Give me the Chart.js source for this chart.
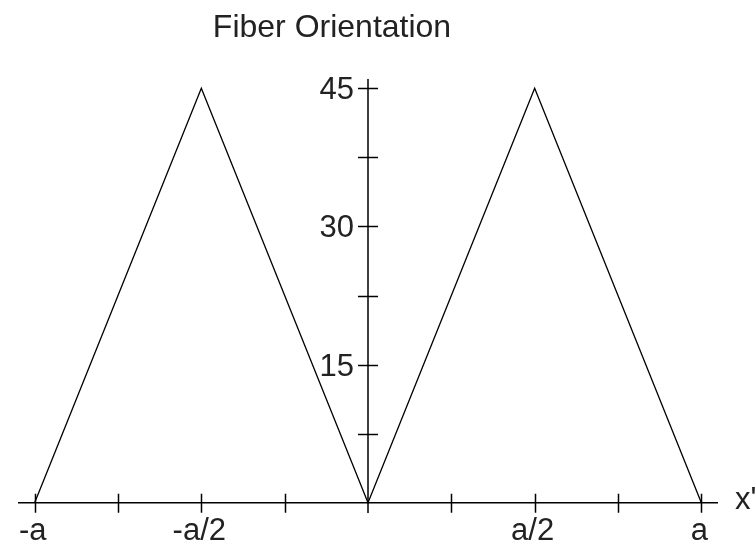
<!DOCTYPE html>
<html>
<head>
<meta charset="utf-8">
<script src="https://cdn.jsdelivr.net/npm/chart.js@4/dist/chart.umd.min.js"></script>
<style>
  html, body { margin: 0; padding: 0; background: #fff; }
  #wrap { width: 756px; height: 544px; }
</style>
</head>
<body>
<div id="wrap"><canvas id="fiberChart" width="756" height="544"></canvas></div>
<script>
// fiber angle across the laminate, x' in units of a
const xs = [-1, -0.5, 0, 0.5, 1];
const angles = [0, 45, 0, 45, 0];

const xTicks = [-1, -0.75, -0.5, -0.25, 0.25, 0.5, 0.75, 1];
const xTickLabels = { '-1': '-a', '-0.5': '-a/2', '0.5': 'a/2', '1': 'a' };
const yTicks = [7.5, 15, 22.5, 30, 37.5, 45];
const yTickLabels = { '15': '15', '30': '30', '45': '45' };

const FONT = '"Liberation Sans", Arial, Helvetica, sans-serif';

// axes cross at the origin, ticks straddle the line -> draw them by hand from the scales
const crossAxes = {
  id: 'crossAxes',
  afterDatasetsDraw(chart) {
    const { ctx, scales: { x, y } } = chart;
    const x0 = x.getPixelForValue(0), y0 = y.getPixelForValue(0);
    ctx.save();
    ctx.strokeStyle = '#000';
    ctx.fillStyle = '#222';
    ctx.lineWidth = 1.5;

    // x axis
    ctx.beginPath();
    ctx.moveTo(x.left, y0);
    ctx.lineTo(x.right, y0);
    // y axis
    ctx.moveTo(x0, y.bottom);
    ctx.lineTo(x0, y.top);
    xTicks.forEach(v => {
      const px = Math.round(x.getPixelForValue(v)) + 0.5;
      ctx.moveTo(px, y0 - 9);
      ctx.lineTo(px, y0 + 10);
    });
    yTicks.forEach(v => {
      const py = Math.round(y.getPixelForValue(v)) + 0.5;
      ctx.moveTo(x0 - 10, py);
      ctx.lineTo(x0 + 10, py);
    });
    ctx.stroke();

    ctx.font = '31px ' + FONT;
    ctx.textAlign = 'center';
    ctx.textBaseline = 'alphabetic';
    Object.keys(xTickLabels).forEach(k => {
      ctx.fillText(xTickLabels[k], x.getPixelForValue(+k) - 2, y0 + 37);
    });
    ctx.textAlign = 'right';
    Object.keys(yTickLabels).forEach(k => {
      ctx.fillText(yTickLabels[k], x0 - 14, y.getPixelForValue(+k) + 11);
    });

    // axis name
    ctx.textAlign = 'left';
    ctx.fillText("x'", x.right + 17, y0 + 6);

    // title
    ctx.textAlign = 'center';
    ctx.font = '32px ' + FONT;
    ctx.fillText('Fiber Orientation', 332, 37);
    ctx.restore();
  }
};

new Chart(document.getElementById('fiberChart').getContext('2d'), {
  type: 'line',
  data: {
    datasets: [{
      data: xs.map((v, i) => ({ x: v, y: angles[i] })),
      borderColor: '#000',
      borderWidth: 1.3,
      pointRadius: 0,
      tension: 0,
      fill: false
    }]
  },
  options: {
    responsive: false,
    animation: false,
    layout: { padding: { left: 18, right: 38, top: 79, bottom: 31 } },
    plugins: { legend: { display: false }, tooltip: { enabled: false }, title: { display: false } },
    scales: {
      x: { type: 'linear', min: -1.05, max: 1.05, display: false },
      y: { type: 'linear', min: -1.1, max: 46, display: false }
    }
  },
  plugins: [crossAxes]
});
</script>
</body>
</html>
